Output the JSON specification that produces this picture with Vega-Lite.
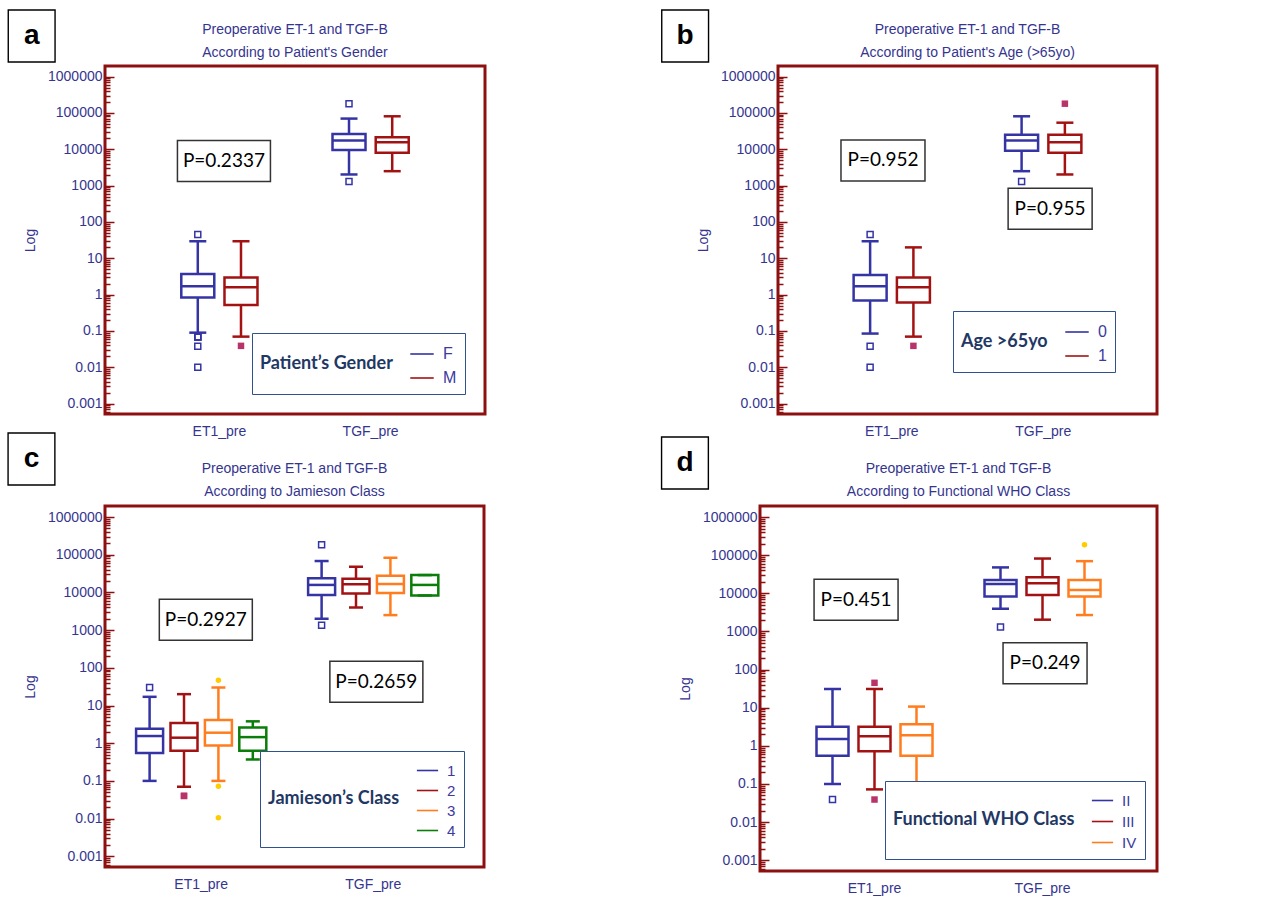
{
  "$schema": "https://vega.github.io/schema/vega-lite/v6.json",
  "padding": {"left": 3, "top": 5, "right": 0, "bottom": 0},
  "background": "white",
  "config": {
    "view": {"stroke": "#8c1010", "strokeWidth": 3},
    "font": "Liberation Sans, sans-serif",
    "title": {"font": "Liberation Sans, sans-serif", "fontSize": 14, "fontWeight": "normal", "color": "#35358f", "anchor": "middle", "frame": "group", "lineHeight": 23},
    "axisY": {
      "values": [0.001,0.002,0.003,0.004,0.005,0.006,0.007,0.008,0.009,0.01,0.02,0.03,0.04,0.05,0.06,0.07,0.08,0.09,0.1,0.2,0.3,0.4,0.5,0.6,0.7,0.8,0.9,1,2,3,4,5,6,7,8,9,10,20,30,40,50,60,70,80,90,100,200,300,400,500,600,700,800,900,1000,2000,3000,4000,5000,6000,7000,8000,9000,10000,20000,30000,40000,50000,60000,70000,80000,90000,100000,200000,300000,400000,500000,600000,700000,800000,900000,1000000],
      "labelExpr": "abs(log(datum.value)/LN10 - round(log(datum.value)/LN10)) < 0.01 ? (datum.value >= 1 ? format(datum.value, 'd') : format(datum.value, '.3~f')) : ''",
      "domain": false, "grid": false, "labelOverlap": false, "labelFlush": false,
      "tickColor": "#8c1010", "tickWidth": 1.5,
      "labelFont": "Liberation Sans, sans-serif", "labelFontSize": 14, "labelColor": "#35358f", "labelPadding": 12,
      "titleFont": "Liberation Sans, sans-serif", "titleFontSize": 14, "titleFontWeight": "normal", "titleColor": "#35358f", "titlePadding": 10
    },
    "axisX": {"title": null, "ticks": false, "domain": false, "labelAngle": 0, "labelFont": "Liberation Sans, sans-serif", "labelFontSize": 14, "labelColor": "#35358f", "labelPadding": 10, "grid": false, "labelExpr": "split(datum.label, '|')[0]"},
    "legend": {
      "orient": "bottom-right", "direction": "vertical", "titleOrient": "left", "titleAnchor": "middle", "titleBaseline": "middle",
      "titleFont": "Lato", "titleFontSize": 18, "titleFontWeight": "bold", "titleColor": "#1f3864", "titlePadding": 16, "titleLimit": 400,
      "strokeColor": "#2f528f", "fillColor": "white", "padding": 8,
      "symbolType": "stroke", "symbolSize": 550, "symbolStrokeWidth": 1.6,
      "labelFont": "Liberation Sans, sans-serif", "labelFontSize": 16, "labelColor": "#3a3aa0", "rowPadding": 3, "labelOffset": 8
    }
  },
  "datasets": {
    "boxA": [
      {"slot": "ET1_pre|F", "var": "ET1_pre", "grp": "F", "min": 0.09, "q1": 0.83, "med": 1.7, "q3": 3.7, "max": 29.5},
      {"slot": "ET1_pre|M", "var": "ET1_pre", "grp": "M", "min": 0.07, "q1": 0.52, "med": 1.6, "q3": 2.95, "max": 29.5},
      {"slot": "TGF_pre|F", "var": "TGF_pre", "grp": "F", "min": 2030, "q1": 9600, "med": 17400, "q3": 26500, "max": 70000},
      {"slot": "TGF_pre|M", "var": "TGF_pre", "grp": "M", "min": 2500, "q1": 8100, "med": 15600, "q3": 21500, "max": 81000}
    ],
    "outA": [
      {"slot": "ET1_pre|F", "grp": "F", "value": 45},
      {"slot": "ET1_pre|F", "grp": "F", "value": 0.068},
      {"slot": "ET1_pre|F", "grp": "F", "value": 0.068},
      {"slot": "ET1_pre|F", "grp": "F", "value": 0.068},
      {"slot": "ET1_pre|F", "grp": "F", "value": 0.038},
      {"slot": "ET1_pre|F", "grp": "F", "value": 0.01},
      {"slot": "ET1_pre|M", "grp": "M", "value": 0.039},
      {"slot": "TGF_pre|F", "grp": "F", "value": 180000},
      {"slot": "TGF_pre|F", "grp": "F", "value": 1300}
    ],
    "annA": [
      {"label": "a", "kind": "letter", "ax": -0.193, "ay": 13100000},
      {"label": "P=0.2337", "kind": "p4", "ax": 0.313, "ay": 4770}
    ],
    "boxB": [
      {"slot": "ET1_pre|0", "var": "ET1_pre", "grp": "0", "min": 0.085, "q1": 0.69, "med": 1.7, "q3": 3.45, "max": 29.5},
      {"slot": "ET1_pre|1", "var": "ET1_pre", "grp": "1", "min": 0.07, "q1": 0.61, "med": 1.6, "q3": 2.95, "max": 20},
      {"slot": "TGF_pre|0", "var": "TGF_pre", "grp": "0", "min": 2500, "q1": 9100, "med": 17400, "q3": 25000, "max": 81000},
      {"slot": "TGF_pre|1", "var": "TGF_pre", "grp": "1", "min": 2030, "q1": 8100, "med": 15600, "q3": 25000, "max": 54000}
    ],
    "outB": [
      {"slot": "ET1_pre|0", "grp": "0", "value": 45},
      {"slot": "ET1_pre|0", "grp": "0", "value": 0.038},
      {"slot": "ET1_pre|0", "grp": "0", "value": 0.01},
      {"slot": "ET1_pre|1", "grp": "1", "value": 0.039},
      {"slot": "TGF_pre|0", "grp": "0", "value": 1300},
      {"slot": "TGF_pre|1", "grp": "1", "value": 180000}
    ],
    "annB": [
      {"label": "b", "kind": "letter", "ax": -0.245, "ay": 13100000},
      {"label": "P=0.952", "kind": "p3", "ax": 0.277, "ay": 4930},
      {"label": "P=0.955", "kind": "p3", "ax": 0.718, "ay": 231}
    ],
    "boxC": [
      {"slot": "ET1_pre|1", "var": "ET1_pre", "grp": "1", "min": 0.1, "q1": 0.55, "med": 1.55, "q3": 2.4, "max": 17},
      {"slot": "ET1_pre|2", "var": "ET1_pre", "grp": "2", "min": 0.07, "q1": 0.63, "med": 1.4, "q3": 3.45, "max": 20},
      {"slot": "ET1_pre|3", "var": "ET1_pre", "grp": "3", "min": 0.1, "q1": 0.87, "med": 1.9, "q3": 4.1, "max": 30},
      {"slot": "ET1_pre|4", "var": "ET1_pre", "grp": "4", "min": 0.37, "q1": 0.63, "med": 1.45, "q3": 2.6, "max": 3.8},
      {"slot": "TGF_pre|1", "var": "TGF_pre", "grp": "1", "min": 2000, "q1": 8500, "med": 15800, "q3": 23600, "max": 68000},
      {"slot": "TGF_pre|2", "var": "TGF_pre", "grp": "2", "min": 4000, "q1": 9300, "med": 16400, "q3": 23000, "max": 48000},
      {"slot": "TGF_pre|3", "var": "TGF_pre", "grp": "3", "min": 2500, "q1": 9650, "med": 16700, "q3": 27800, "max": 83000},
      {"slot": "TGF_pre|4", "var": "TGF_pre", "grp": "4", "min": 8300, "q1": 8300, "med": 15800, "q3": 28800, "max": 28800}
    ],
    "outC": [
      {"slot": "ET1_pre|1", "grp": "1", "value": 30},
      {"slot": "ET1_pre|2", "grp": "2", "value": 0.04},
      {"slot": "ET1_pre|2", "grp": "2", "value": 0.04},
      {"slot": "ET1_pre|3", "grp": "3", "value": 47},
      {"slot": "ET1_pre|3", "grp": "3", "value": 0.072},
      {"slot": "ET1_pre|3", "grp": "3", "value": 0.0105},
      {"slot": "TGF_pre|1", "grp": "1", "value": 185000},
      {"slot": "TGF_pre|1", "grp": "1", "value": 1340}
    ],
    "annC": [
      {"label": "c", "kind": "letter", "ax": -0.194, "ay": 34600000},
      {"label": "P=0.2927", "kind": "p4", "ax": 0.266, "ay": 1888},
      {"label": "P=0.2659", "kind": "p4", "ax": 0.716, "ay": 42.8}
    ],
    "boxD": [
      {"slot": "ET1_pre|II", "var": "ET1_pre", "grp": "II", "min": 0.1, "q1": 0.55, "med": 1.5, "q3": 3.15, "max": 31},
      {"slot": "ET1_pre|III", "var": "ET1_pre", "grp": "III", "min": 0.072, "q1": 0.72, "med": 1.78, "q3": 3.15, "max": 31},
      {"slot": "ET1_pre|IV", "var": "ET1_pre", "grp": "IV", "min": 0.072, "q1": 0.55, "med": 1.9, "q3": 3.7, "max": 10.7},
      {"slot": "TGF_pre|II", "var": "TGF_pre", "grp": "II", "min": 3950, "q1": 8300, "med": 17700, "q3": 22500, "max": 48000},
      {"slot": "TGF_pre|III", "var": "TGF_pre", "grp": "III", "min": 2040, "q1": 9100, "med": 18400, "q3": 26600, "max": 82000},
      {"slot": "TGF_pre|IV", "var": "TGF_pre", "grp": "IV", "min": 2700, "q1": 8300, "med": 12300, "q3": 22500, "max": 70000}
    ],
    "outD": [
      {"slot": "ET1_pre|II", "grp": "II", "value": 0.039},
      {"slot": "ET1_pre|III", "grp": "III", "value": 45},
      {"slot": "ET1_pre|III", "grp": "III", "value": 0.039},
      {"slot": "TGF_pre|II", "grp": "II", "value": 1310},
      {"slot": "TGF_pre|IV", "grp": "IV", "value": 188000}
    ],
    "annD": [
      {"label": "d", "kind": "letter", "ax": -0.189, "ay": 26300000},
      {"label": "P=0.451", "kind": "p3", "ax": 0.242, "ay": 6780},
      {"label": "P=0.249", "kind": "p3", "ax": 0.718, "ay": 146.6}
    ]
  },
  "resolve": {"scale": {"color": "independent"}, "legend": {"color": "independent"}},
  "spacing": -12,
  "vconcat": [
    {
      "spacing": 170,
      "resolve": {"scale": {"color": "independent"}, "legend": {"color": "independent"}},
      "hconcat": [
        {
          "width": 380, "height": 348,
          "title": {"text": ["Preoperative ET-1 and TGF-B", "According to Patient's Gender"], "offset": -53},
          "resolve": {"scale": {"x": "independent"}},
          "layer": [
            {
              "encoding": {"x": {"field": "slot", "type": "nominal", "scale": {"domain": ["l1", "l2", "l3", "ET1_pre|F", "ET1_pre", "ET1_pre|M", "g1", "g2", "g3", "g4", "TGF_pre|F", "TGF_pre", "TGF_pre|M", "r1", "r2", "r3"], "paddingInner": 0, "paddingOuter": 0.795}, "axis": {"values": ["ET1_pre", "TGF_pre"]}}},
              "layer": [
                {
                  "data": {"name": "boxA"},
                  "encoding": {"color": {"field": "grp", "type": "nominal", "scale": {"domain": ["F", "M"], "range": ["#3434a4", "#a31212"]}, "legend": {"title": "Patient’s Gender", "offset": 20}}},
                  "layer": [
                    {"mark": {"type": "rule", "strokeWidth": 2.5}, "encoding": {"y": {"field": "max", "type": "quantitative", "scale": {"type": "log", "domain": [0.00052, 1960000], "nice": false}, "axis": {"title": "Log", "tickSize": {"condition": {"test": "abs(log(datum.value)/LN10 - round(log(datum.value)/LN10)) < 0.01", "value": -9}, "value": -5}}}, "y2": {"field": "q3"}}},
                    {"mark": {"type": "rule", "strokeWidth": 2.5}, "encoding": {"y": {"field": "q1", "type": "quantitative", "scale": {"type": "log", "domain": [0.00052, 1960000], "nice": false}}, "y2": {"field": "min"}}},
                    {"mark": {"type": "bar", "filled": false, "width": 33, "strokeWidth": 2.5}, "encoding": {"y": {"field": "q3", "type": "quantitative", "scale": {"type": "log", "domain": [0.00052, 1960000], "nice": false}}, "y2": {"field": "q1"}}},
                    {"mark": {"type": "tick", "size": 33, "thickness": 2.5, "opacity": 1}, "encoding": {"y": {"field": "med", "type": "quantitative", "scale": {"type": "log", "domain": [0.00052, 1960000], "nice": false}}}},
                    {"mark": {"type": "tick", "size": 17, "thickness": 2.5, "opacity": 1}, "encoding": {"y": {"field": "max", "type": "quantitative", "scale": {"type": "log", "domain": [0.00052, 1960000], "nice": false}}}},
                    {"mark": {"type": "tick", "size": 17, "thickness": 2.5, "opacity": 1}, "encoding": {"y": {"field": "min", "type": "quantitative", "scale": {"type": "log", "domain": [0.00052, 1960000], "nice": false}}}}
                  ]
                },
                {
                  "data": {"name": "outA"},
                  "encoding": {"y": {"field": "value", "type": "quantitative", "scale": {"type": "log", "domain": [0.00052, 1960000], "nice": false}}},
                  "layer": [
                    {"transform": [{"filter": "datum.grp == 'F'"}], "mark": {"type": "point", "shape": "square", "filled": false, "color": "#3434a4", "size": 36, "strokeWidth": 1.5, "opacity": 1}},
                    {"transform": [{"filter": "datum.grp == 'M'"}], "mark": {"type": "point", "shape": "square", "filled": true, "color": "#b8336a", "size": 42, "opacity": 1}}
                  ]
                }
              ]
            },
            {
              "data": {"name": "annA"},
              "encoding": {
                "x": {"field": "ax", "type": "quantitative", "scale": {"domain": [0, 1], "nice": false, "zero": false}, "axis": null},
                "y": {"field": "ay", "type": "quantitative", "scale": {"type": "log", "domain": [0.00052, 1960000], "nice": false}}
              },
              "layer": [
                {"transform": [{"filter": "datum.kind == 'letter'"}], "mark": {"type": "point", "shape": "M-0.9,-1L0.9,-1L0.9,1L-0.9,1Z", "size": 2704, "filled": true, "fill": "white", "stroke": "black", "strokeWidth": 1.4, "opacity": 1}},
                {"transform": [{"filter": "datum.kind == 'letter'"}], "mark": {"type": "text", "font": "Liberation Sans", "fontWeight": "bold", "fontSize": 28, "align": "center", "baseline": "middle", "color": "black"}, "encoding": {"text": {"field": "label"}}},
                {"transform": [{"filter": "datum.kind == 'p4'"}], "mark": {"type": "point", "shape": "M-1,-0.441L1,-0.441L1,0.441L-1,0.441Z", "size": 8649, "filled": true, "fill": "white", "stroke": "#333333", "strokeWidth": 1.5, "opacity": 1}},
                {"transform": [{"filter": "datum.kind == 'p3'"}], "mark": {"type": "point", "shape": "M-1,-0.488L1,-0.488L1,0.488L-1,0.488Z", "size": 7056, "filled": true, "fill": "white", "stroke": "#333333", "strokeWidth": 1.5, "opacity": 1}},
                {"transform": [{"filter": "datum.kind != 'letter'"}], "mark": {"type": "text", "font": "Lato", "fontSize": 19, "align": "center", "baseline": "middle", "color": "black"}, "encoding": {"text": {"field": "label"}}}
              ]
            }
          ]
        },
        {
          "width": 379, "height": 348,
          "title": {"text": ["Preoperative ET-1 and TGF-B", "According to Patient's Age (>65yo)"], "offset": -53},
          "resolve": {"scale": {"x": "independent"}},
          "layer": [
            {
              "encoding": {"x": {"field": "slot", "type": "nominal", "scale": {"domain": ["l1", "l2", "l3", "ET1_pre|0", "ET1_pre", "ET1_pre|1", "g1", "g2", "g3", "g4", "TGF_pre|0", "TGF_pre", "TGF_pre|1", "r1", "r2", "r3"], "paddingInner": 0, "paddingOuter": 0.757}, "axis": {"values": ["ET1_pre", "TGF_pre"]}}},
              "layer": [
                {
                  "data": {"name": "boxB"},
                  "encoding": {"color": {"field": "grp", "type": "nominal", "scale": {"domain": ["0", "1"], "range": ["#3434a4", "#a31212"]}, "legend": {"title": "Age >65yo", "offset": 42}}},
                  "layer": [
                    {"mark": {"type": "rule", "strokeWidth": 2.5}, "encoding": {"y": {"field": "max", "type": "quantitative", "scale": {"type": "log", "domain": [0.00052, 1960000], "nice": false}, "axis": {"title": "Log", "tickSize": {"condition": {"test": "abs(log(datum.value)/LN10 - round(log(datum.value)/LN10)) < 0.01", "value": -9}, "value": -5}}}, "y2": {"field": "q3"}}},
                    {"mark": {"type": "rule", "strokeWidth": 2.5}, "encoding": {"y": {"field": "q1", "type": "quantitative", "scale": {"type": "log", "domain": [0.00052, 1960000], "nice": false}}, "y2": {"field": "min"}}},
                    {"mark": {"type": "bar", "filled": false, "width": 33, "strokeWidth": 2.5}, "encoding": {"y": {"field": "q3", "type": "quantitative", "scale": {"type": "log", "domain": [0.00052, 1960000], "nice": false}}, "y2": {"field": "q1"}}},
                    {"mark": {"type": "tick", "size": 33, "thickness": 2.5, "opacity": 1}, "encoding": {"y": {"field": "med", "type": "quantitative", "scale": {"type": "log", "domain": [0.00052, 1960000], "nice": false}}}},
                    {"mark": {"type": "tick", "size": 17, "thickness": 2.5, "opacity": 1}, "encoding": {"y": {"field": "max", "type": "quantitative", "scale": {"type": "log", "domain": [0.00052, 1960000], "nice": false}}}},
                    {"mark": {"type": "tick", "size": 17, "thickness": 2.5, "opacity": 1}, "encoding": {"y": {"field": "min", "type": "quantitative", "scale": {"type": "log", "domain": [0.00052, 1960000], "nice": false}}}}
                  ]
                },
                {
                  "data": {"name": "outB"},
                  "encoding": {"y": {"field": "value", "type": "quantitative", "scale": {"type": "log", "domain": [0.00052, 1960000], "nice": false}}},
                  "layer": [
                    {"transform": [{"filter": "datum.grp == '0'"}], "mark": {"type": "point", "shape": "square", "filled": false, "color": "#3434a4", "size": 36, "strokeWidth": 1.5, "opacity": 1}},
                    {"transform": [{"filter": "datum.grp == '1'"}], "mark": {"type": "point", "shape": "square", "filled": true, "color": "#b8336a", "size": 42, "opacity": 1}}
                  ]
                }
              ]
            },
            {
              "data": {"name": "annB"},
              "encoding": {
                "x": {"field": "ax", "type": "quantitative", "scale": {"domain": [0, 1], "nice": false, "zero": false}, "axis": null},
                "y": {"field": "ay", "type": "quantitative", "scale": {"type": "log", "domain": [0.00052, 1960000], "nice": false}}
              },
              "layer": [
                {"transform": [{"filter": "datum.kind == 'letter'"}], "mark": {"type": "point", "shape": "M-0.9,-1L0.9,-1L0.9,1L-0.9,1Z", "size": 2704, "filled": true, "fill": "white", "stroke": "black", "strokeWidth": 1.4, "opacity": 1}},
                {"transform": [{"filter": "datum.kind == 'letter'"}], "mark": {"type": "text", "font": "Liberation Sans", "fontWeight": "bold", "fontSize": 28, "align": "center", "baseline": "middle", "color": "black"}, "encoding": {"text": {"field": "label"}}},
                {"transform": [{"filter": "datum.kind == 'p4'"}], "mark": {"type": "point", "shape": "M-1,-0.441L1,-0.441L1,0.441L-1,0.441Z", "size": 8649, "filled": true, "fill": "white", "stroke": "#333333", "strokeWidth": 1.5, "opacity": 1}},
                {"transform": [{"filter": "datum.kind == 'p3'"}], "mark": {"type": "point", "shape": "M-1,-0.488L1,-0.488L1,0.488L-1,0.488Z", "size": 7056, "filled": true, "fill": "white", "stroke": "#333333", "strokeWidth": 1.5, "opacity": 1}},
                {"transform": [{"filter": "datum.kind != 'letter'"}], "mark": {"type": "text", "font": "Lato", "fontSize": 19, "align": "center", "baseline": "middle", "color": "black"}, "encoding": {"text": {"field": "label"}}}
              ]
            }
          ]
        }
      ]
    },
    {
      "spacing": 171,
      "resolve": {"scale": {"color": "independent"}, "legend": {"color": "independent"}},
      "hconcat": [
        {
          "width": 379, "height": 361,
          "title": {"text": ["Preoperative ET-1 and TGF-B", "According to Jamieson Class"], "offset": -69},
          "resolve": {"scale": {"x": "independent"}},
          "layer": [
            {
              "encoding": {"x": {"field": "slot", "type": "nominal", "scale": {"domain": ["l1", "l2", "ET1_pre|1", "x1", "ET1_pre|2", "ET1_pre", "ET1_pre|3", "x2", "ET1_pre|4", "g1", "g2", "g3", "TGF_pre|1", "x3", "TGF_pre|2", "TGF_pre", "TGF_pre|3", "x4", "TGF_pre|4", "r1", "r2"], "paddingInner": 0, "paddingOuter": 0.517, "align": 0.09}, "axis": {"values": ["ET1_pre", "TGF_pre"]}}},
              "layer": [
                {
                  "data": {"name": "boxC"},
                  "encoding": {"color": {"field": "grp", "type": "nominal", "scale": {"domain": ["1", "2", "3", "4"], "range": ["#3434a4", "#a31212", "#ff7d1f", "#0a7d0a"]}, "legend": {"title": "Jamieson’s Class", "offset": 20, "rowPadding": 0, "labelFontSize": 15, "symbolSize": 450}}},
                  "layer": [
                    {"mark": {"type": "rule", "strokeWidth": 2.5}, "encoding": {"y": {"field": "max", "type": "quantitative", "scale": {"type": "log", "domain": [0.00052, 1960000], "nice": false}, "axis": {"title": "Log", "tickSize": {"condition": {"test": "abs(log(datum.value)/LN10 - round(log(datum.value)/LN10)) < 0.01", "value": -9}, "value": -5}}}, "y2": {"field": "q3"}}},
                    {"mark": {"type": "rule", "strokeWidth": 2.5}, "encoding": {"y": {"field": "q1", "type": "quantitative", "scale": {"type": "log", "domain": [0.00052, 1960000], "nice": false}}, "y2": {"field": "min"}}},
                    {"mark": {"type": "bar", "filled": false, "width": 27, "strokeWidth": 2.5}, "encoding": {"y": {"field": "q3", "type": "quantitative", "scale": {"type": "log", "domain": [0.00052, 1960000], "nice": false}}, "y2": {"field": "q1"}}},
                    {"mark": {"type": "tick", "size": 27, "thickness": 2.5, "opacity": 1}, "encoding": {"y": {"field": "med", "type": "quantitative", "scale": {"type": "log", "domain": [0.00052, 1960000], "nice": false}}}},
                    {"mark": {"type": "tick", "size": 14, "thickness": 2.5, "opacity": 1}, "encoding": {"y": {"field": "max", "type": "quantitative", "scale": {"type": "log", "domain": [0.00052, 1960000], "nice": false}}}},
                    {"mark": {"type": "tick", "size": 14, "thickness": 2.5, "opacity": 1}, "encoding": {"y": {"field": "min", "type": "quantitative", "scale": {"type": "log", "domain": [0.00052, 1960000], "nice": false}}}}
                  ]
                },
                {
                  "data": {"name": "outC"},
                  "encoding": {"y": {"field": "value", "type": "quantitative", "scale": {"type": "log", "domain": [0.00052, 1960000], "nice": false}}},
                  "layer": [
                    {"transform": [{"filter": "datum.grp == '1'"}], "mark": {"type": "point", "shape": "square", "filled": false, "color": "#3434a4", "size": 36, "strokeWidth": 1.5, "opacity": 1}},
                    {"transform": [{"filter": "datum.grp == '2'"}], "mark": {"type": "point", "shape": "square", "filled": true, "color": "#b8336a", "size": 42, "opacity": 1}},
                    {"transform": [{"filter": "datum.grp == '3'"}], "mark": {"type": "point", "shape": "circle", "filled": true, "color": "#ffcc00", "size": 30, "opacity": 1}}
                  ]
                }
              ]
            },
            {
              "data": {"name": "annC"},
              "encoding": {
                "x": {"field": "ax", "type": "quantitative", "scale": {"domain": [0, 1], "nice": false, "zero": false}, "axis": null},
                "y": {"field": "ay", "type": "quantitative", "scale": {"type": "log", "domain": [0.00052, 1960000], "nice": false}}
              },
              "layer": [
                {"transform": [{"filter": "datum.kind == 'letter'"}], "mark": {"type": "point", "shape": "M-0.9,-1L0.9,-1L0.9,1L-0.9,1Z", "size": 2704, "filled": true, "fill": "white", "stroke": "black", "strokeWidth": 1.4, "opacity": 1}},
                {"transform": [{"filter": "datum.kind == 'letter'"}], "mark": {"type": "text", "font": "Liberation Sans", "fontWeight": "bold", "fontSize": 28, "align": "center", "baseline": "middle", "color": "black"}, "encoding": {"text": {"field": "label"}}},
                {"transform": [{"filter": "datum.kind == 'p4'"}], "mark": {"type": "point", "shape": "M-1,-0.441L1,-0.441L1,0.441L-1,0.441Z", "size": 8649, "filled": true, "fill": "white", "stroke": "#333333", "strokeWidth": 1.5, "opacity": 1}},
                {"transform": [{"filter": "datum.kind == 'p3'"}], "mark": {"type": "point", "shape": "M-1,-0.488L1,-0.488L1,0.488L-1,0.488Z", "size": 7056, "filled": true, "fill": "white", "stroke": "#333333", "strokeWidth": 1.5, "opacity": 1}},
                {"transform": [{"filter": "datum.kind != 'letter'"}], "mark": {"type": "text", "font": "Lato", "fontSize": 19, "align": "center", "baseline": "middle", "color": "black"}, "encoding": {"text": {"field": "label"}}}
              ]
            }
          ]
        },
        {
          "width": 397, "height": 365,
          "title": {"text": ["Preoperative ET-1 and TGF-B", "According to Functional WHO Class"], "offset": -65},
          "resolve": {"scale": {"x": "independent"}},
          "layer": [
            {
              "encoding": {"x": {"field": "slot", "type": "nominal", "scale": {"domain": ["l1", "ET1_pre|II", "ET1_pre|III", "ET1_pre|IV", "g1", "TGF_pre|II", "TGF_pre|III", "TGF_pre|IV", "r1"], "paddingInner": 0, "paddingOuter": 0.226}, "axis": {"values": ["ET1_pre|III", "TGF_pre|III"]}}},
              "layer": [
                {
                  "data": {"name": "boxD"},
                  "encoding": {"color": {"field": "grp", "type": "nominal", "scale": {"domain": ["II", "III", "IV"], "range": ["#3434a4", "#a31212", "#ff7d1f"]}, "legend": {"title": "Functional WHO Class", "offset": 12, "rowPadding": 1, "labelFontSize": 15, "symbolSize": 450}}},
                  "layer": [
                    {"mark": {"type": "rule", "strokeWidth": 2.5}, "encoding": {"y": {"field": "max", "type": "quantitative", "scale": {"type": "log", "domain": [0.00052, 1960000], "nice": false}, "axis": {"title": "Log", "tickSize": {"condition": {"test": "abs(log(datum.value)/LN10 - round(log(datum.value)/LN10)) < 0.01", "value": -9}, "value": -5}}}, "y2": {"field": "q3"}}},
                    {"mark": {"type": "rule", "strokeWidth": 2.5}, "encoding": {"y": {"field": "q1", "type": "quantitative", "scale": {"type": "log", "domain": [0.00052, 1960000], "nice": false}}, "y2": {"field": "min"}}},
                    {"mark": {"type": "bar", "filled": false, "width": 32, "strokeWidth": 2.5}, "encoding": {"y": {"field": "q3", "type": "quantitative", "scale": {"type": "log", "domain": [0.00052, 1960000], "nice": false}}, "y2": {"field": "q1"}}},
                    {"mark": {"type": "tick", "size": 32, "thickness": 2.5, "opacity": 1}, "encoding": {"y": {"field": "med", "type": "quantitative", "scale": {"type": "log", "domain": [0.00052, 1960000], "nice": false}}}},
                    {"mark": {"type": "tick", "size": 17, "thickness": 2.5, "opacity": 1}, "encoding": {"y": {"field": "max", "type": "quantitative", "scale": {"type": "log", "domain": [0.00052, 1960000], "nice": false}}}},
                    {"mark": {"type": "tick", "size": 17, "thickness": 2.5, "opacity": 1}, "encoding": {"y": {"field": "min", "type": "quantitative", "scale": {"type": "log", "domain": [0.00052, 1960000], "nice": false}}}}
                  ]
                },
                {
                  "data": {"name": "outD"},
                  "encoding": {"y": {"field": "value", "type": "quantitative", "scale": {"type": "log", "domain": [0.00052, 1960000], "nice": false}}},
                  "layer": [
                    {"transform": [{"filter": "datum.grp == 'II'"}], "mark": {"type": "point", "shape": "square", "filled": false, "color": "#3434a4", "size": 36, "strokeWidth": 1.5, "opacity": 1}},
                    {"transform": [{"filter": "datum.grp == 'III'"}], "mark": {"type": "point", "shape": "square", "filled": true, "color": "#b8336a", "size": 42, "opacity": 1}},
                    {"transform": [{"filter": "datum.grp == 'IV'"}], "mark": {"type": "point", "shape": "circle", "filled": true, "color": "#ffcc00", "size": 30, "opacity": 1}}
                  ]
                }
              ]
            },
            {
              "data": {"name": "annD"},
              "encoding": {
                "x": {"field": "ax", "type": "quantitative", "scale": {"domain": [0, 1], "nice": false, "zero": false}, "axis": null},
                "y": {"field": "ay", "type": "quantitative", "scale": {"type": "log", "domain": [0.00052, 1960000], "nice": false}}
              },
              "layer": [
                {"transform": [{"filter": "datum.kind == 'letter'"}], "mark": {"type": "point", "shape": "M-0.9,-1L0.9,-1L0.9,1L-0.9,1Z", "size": 2704, "filled": true, "fill": "white", "stroke": "black", "strokeWidth": 1.4, "opacity": 1}},
                {"transform": [{"filter": "datum.kind == 'letter'"}], "mark": {"type": "text", "font": "Liberation Sans", "fontWeight": "bold", "fontSize": 28, "align": "center", "baseline": "middle", "color": "black"}, "encoding": {"text": {"field": "label"}}},
                {"transform": [{"filter": "datum.kind == 'p4'"}], "mark": {"type": "point", "shape": "M-1,-0.441L1,-0.441L1,0.441L-1,0.441Z", "size": 8649, "filled": true, "fill": "white", "stroke": "#333333", "strokeWidth": 1.5, "opacity": 1}},
                {"transform": [{"filter": "datum.kind == 'p3'"}], "mark": {"type": "point", "shape": "M-1,-0.488L1,-0.488L1,0.488L-1,0.488Z", "size": 7056, "filled": true, "fill": "white", "stroke": "#333333", "strokeWidth": 1.5, "opacity": 1}},
                {"transform": [{"filter": "datum.kind != 'letter'"}], "mark": {"type": "text", "font": "Lato", "fontSize": 19, "align": "center", "baseline": "middle", "color": "black"}, "encoding": {"text": {"field": "label"}}}
              ]
            }
          ]
        }
      ]
    }
  ]
}
